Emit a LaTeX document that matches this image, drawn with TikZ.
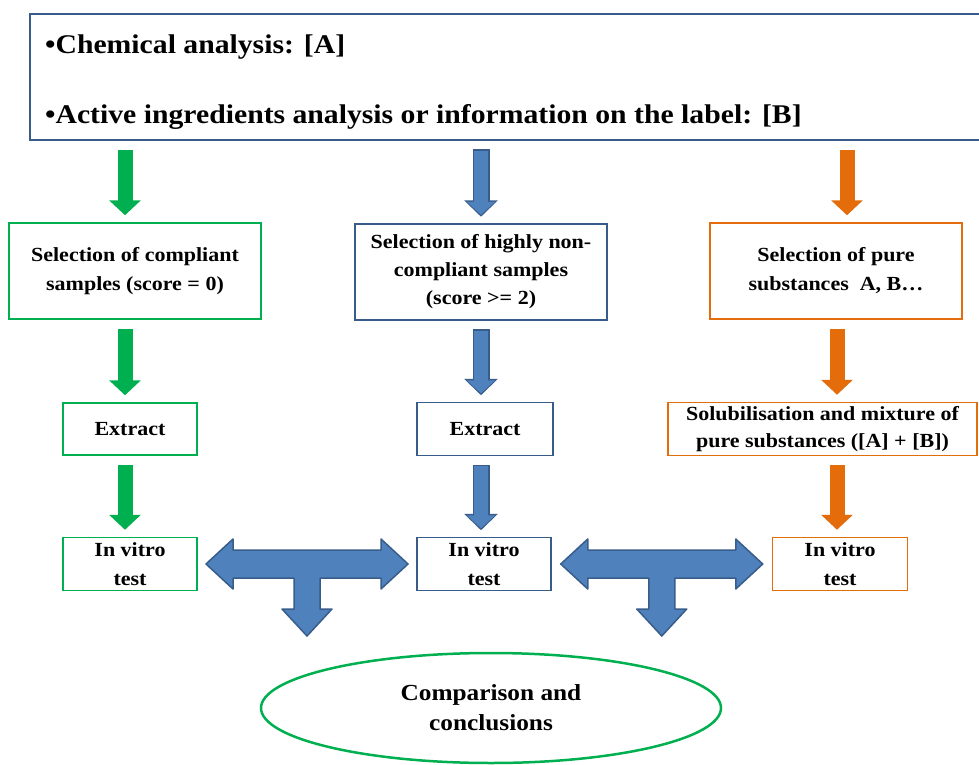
\documentclass[tikz,border=0pt]{standalone}
\usepackage{fontspec}
\setmainfont{Liberation Serif}[FakeStretch=1.1]
\usepackage{xcolor}
\usepackage{tikz}
\usetikzlibrary{arrows.meta,shapes.geometric,calc}

\definecolor{cgreen}{HTML}{00B050}
\definecolor{cblue}{HTML}{4F81BD}
\definecolor{cbluedark}{HTML}{385D8A}
\definecolor{corange}{HTML}{E46C0A}

\tikzset{
  box/.style={draw, line width=1.5pt, align=center, inner sep=0pt,
    font=\fontsize{20}{29}\selectfont\bfseries},
  gbox/.style={box, draw=cgreen},
  bbox/.style={box, draw=cbluedark},
  obox/.style={box, draw=corange},
  garrow/.style={line width=15pt, cgreen, -{Triangle[width=31pt,length=15pt]},
    shorten <=9pt, shorten >=7pt},
  oarrow/.style={garrow, corange},
  barrow/.style={line width=13.5pt, cblue, -{Triangle[width=28pt,length=13pt]},
    shorten <=10pt, shorten >=8.5pt,
    preaction={draw=cbluedark, line width=17pt, -{Triangle[width=33pt,length=16.5pt]},
      shorten <=8.5pt, shorten >=6.5pt}},
  tarrow/.style={fill=cblue, draw=cbluedark, line width=1.5pt, line join=round}
}

\begin{document}
\begin{tikzpicture}[x=1pt, y=-1pt]
  \useasboundingbox[fill=white] (0,0) rectangle (979,765);

  % analyses
  \node (info) at (507.5,77) [draw=cbluedark, line width=1.5pt, minimum width=955pt, minimum height=126pt] {};
  \node (chem) at (45,47) [anchor=west, inner sep=0pt, font=\fontsize{27}{30}\selectfont\bfseries] {\textbullet Chemical analysis: [A]};
  \node (actv) at (45,117) [anchor=west, inner sep=0pt, font=\fontsize{27}{30}\selectfont\bfseries] {\textbullet Active ingredients analysis or information on the label: [B]};

  % three branches
  \node (sel1) at (135,271) [gbox, minimum width=252pt, minimum height=96pt] {Selection of compliant\\samples (score = 0)};
  \node (sel2) at (481,272) [bbox, minimum width=252pt, minimum height=96pt, font=\fontsize{20}{28}\selectfont\bfseries] {Selection of highly non-\\compliant samples\\(score >= 2)};
  \node (sel3) at (836,271) [obox, minimum width=252pt, minimum height=96pt] {Selection of pure\\substances\ \ A, B\dots};

  \node (ext1) at (130,429) [gbox, minimum width=134pt, minimum height=52pt] {Extract};
  \node (ext2) at (485,429) [bbox, minimum width=136pt, minimum height=53pt] {Extract};
  \node (mix3) at (822.5,429) [obox, minimum width=309pt, minimum height=53pt, font=\fontsize{20}{27}\selectfont\bfseries] {Solubilisation and mixture of\\pure substances ([A] + [B])};

  \node (vit1) at (130,564) [gbox, minimum width=134pt, minimum height=53pt] {In vitro\\test};
  \node (vit2) at (484,564) [bbox, minimum width=134pt, minimum height=53pt] {In vitro\\test};
  \node (vit3) at (840,564) [obox, minimum width=135pt, minimum height=53pt] {In vitro\\test};

  \node (comp) at (491,708) [ellipse, draw=cgreen, line width=2.5pt, minimum width=460pt, minimum height=110pt, align=center, inner sep=0pt, font=\fontsize{23}{30}\selectfont\bfseries] {Comparison and\\conclusions};

  % columns of the arrows
  \coordinate (cg) at (125,0);
  \coordinate (cb) at (481,0);
  \coordinate (co) at (847,0);
  \coordinate (co2) at (837,0);

  \draw[garrow] (info.south -| cg) -- (sel1.north -| cg);
  \draw[garrow] (sel1.south -| cg) -- (ext1.north -| cg);
  \draw[garrow] (ext1.south -| cg) -- (vit1.north -| cg);

  \draw[barrow] (info.south -| cb) -- (sel2.north -| cb);
  \draw[barrow] (sel2.south -| cb) -- (ext2.north -| cb);
  \draw[barrow] (ext2.south -| cb) -- (vit2.north -| cb);

  \draw[oarrow] (info.south -| co) -- (sel3.north -| co);
  \draw[oarrow] (sel3.south -| co2) -- (mix3.north -| co2);
  \draw[oarrow] (mix3.south -| co2) -- (vit3.north -| co2);

  % comparison arrows
  \coordinate (tl) at ($(vit1.east)!0.5!(vit2.west)$);
  \coordinate (tr) at ($(vit2.east)!0.5!(vit3.west)$);
  \foreach \c in {tl,tr}
    \draw[tarrow] (\c) ++(-101,0) -- ++(27,-25) -- ++(0,11) -- ++(148,0) -- ++(0,-11)
      -- ++(27,25) -- ++(-27,25) -- ++(0,-11) -- ++(-61,0) -- ++(0,31) -- ++(12,0)
      -- ++(-25,27) -- ++(-25,-27) -- ++(12,0) -- ++(0,-31) -- ++(-61,0) -- ++(0,11) -- cycle;
\end{tikzpicture}
\end{document}
